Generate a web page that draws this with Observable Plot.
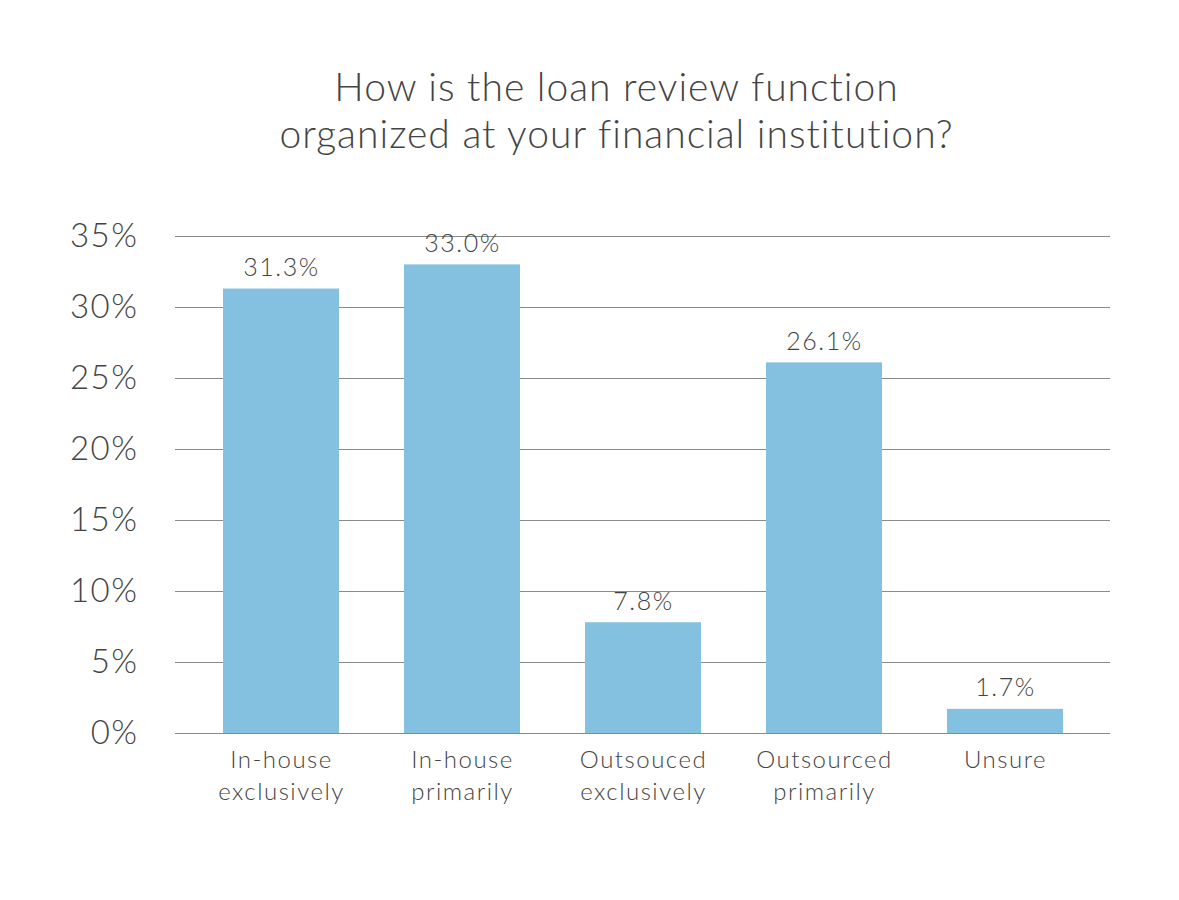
<!DOCTYPE html>
<html>
<head>
<meta charset="utf-8">
<script src="https://cdn.jsdelivr.net/npm/d3@7"></script>
<script src="https://cdn.jsdelivr.net/npm/@observablehq/plot@0.6"></script>
<style>
  html, body { margin: 0; padding: 0; background: #fff; }
  #wrap { width: 1179px; font-family: Lato, "Open Sans", sans-serif; font-weight: 300; color: #444; }
  #title { height: 180px; box-sizing: border-box; padding-top: 63px; padding-left: 54px; text-align: center; font-size: 39px; line-height: 47px; letter-spacing: 1px; color: #444; font-weight: 300; }
  svg { display: block; }
  svg text { letter-spacing: 1.5px; }
</style>
</head>
<body>
<div id="wrap">
  <div id="title">How is the loan review function<br>organized at your financial institution?</div>
  <div id="chart"></div>
</div>
<script>
const categories = ["In-house exclusively", "In-house primarily", "Outsouced exclusively", "Outsourced primarily", "Unsure"];
const axisLabels = ["In-house\nexclusively", "In-house\nprimarily", "Outsouced\nexclusively", "Outsourced\nprimarily", "Unsure"];
const values = [31.3, 33.0, 7.8, 26.1, 1.7];
const yTicks = [0, 5, 10, 15, 20, 25, 30, 35];

const data = categories.map((c, i) => ({category: c, value: values[i], label: axisLabels[i]}));
const labelOf = new Map(categories.map((c, i) => [c, axisLabels[i]]));

const chart = Plot.plot({
  width: 1179,
  height: 720,
  marginTop: 56,
  marginBottom: 167,
  marginLeft: 175,
  marginRight: 69,
  style: {fontFamily: "Lato, 'Open Sans', sans-serif", fontWeight: 300, color: "#444"},
  x: {domain: categories, paddingInner: 0.36, paddingOuter: 0.26, label: null},
  y: {domain: [0, 35], label: null},
  marks: [
    Plot.ruleY(yTicks, {stroke: "#8a8a8a", strokeWidth: 1.2, strokeOpacity: 1}),
    Plot.barY(data, {x: "category", y: "value", fill: "#84c1e0"}),
    Plot.text(data, {x: "category", y: "value", text: d => d.value.toFixed(1) + "%", dy: -21, fontSize: 25, fill: "#444", fontWeight: 300}),
    Plot.axisY(yTicks, {tickSize: 0, tickPadding: 37, tickFormat: d => d + "%", fontSize: 33, fill: "#444", label: null}),
    Plot.axisX({tickSize: 0, tickPadding: 11, tickFormat: d => labelOf.get(d), fontSize: 24, lineHeight: 1.35, lineAnchor: "top", fill: "#444", label: null})
  ]
});
document.getElementById("chart").appendChild(chart);
</script>
</body>
</html>
